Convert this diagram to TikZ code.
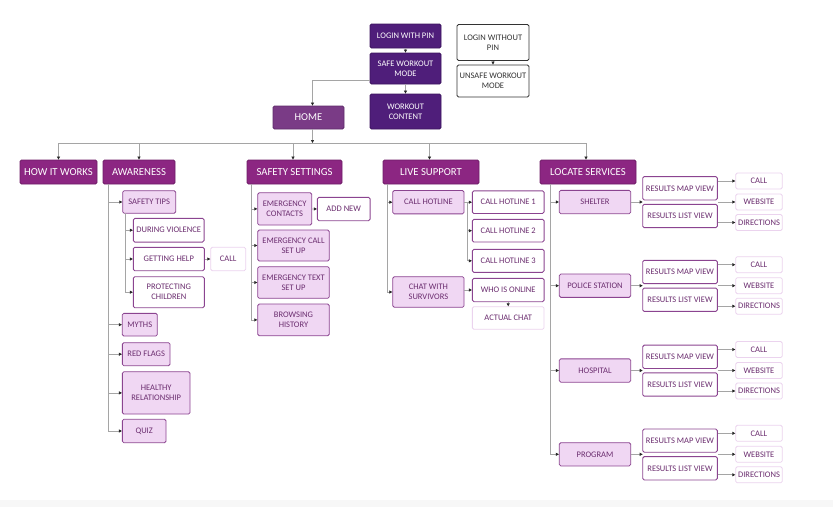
\documentclass[tikz,border=0pt]{standalone}
\usepackage{fontspec}
\setmainfont{Carlito}
\usetikzlibrary{arrows.meta}
\definecolor{dpurple}{HTML}{4F1E7A}
\definecolor{dpurpleb}{HTML}{3C145E}
\definecolor{homec}{HTML}{7A3B86}
\definecolor{homeb}{HTML}{5E2A6A}
\definecolor{topc}{HTML}{8C2682}
\definecolor{topb}{HTML}{6E1D66}
\definecolor{pinkf}{HTML}{F0D7F3}
\definecolor{pinkb}{HTML}{8B4490}
\definecolor{ptext}{HTML}{6B2D6F}
\definecolor{faintb}{HTML}{EBD3EE}
\definecolor{linegray}{HTML}{A5A5A5}
\definecolor{stripc}{HTML}{F7F7F7}
\newcommand{\smallfont}{\fontsize{8.5}{10}\selectfont}
\newcommand{\mybox}[7]{\node[#1,minimum width=#5pt,minimum height=#6pt] (#2) at (#3,#4) {#7};}
\newcommand{\servicegroup}[3]{%
  \mybox{pinkbox}{#1}{595}{#2}{71.4}{23.3}{#3}
  \mybox{whitebox}{#1map}{680}{#2-13.7}{74.6}{23.3}{RESULTS MAP VIEW}
  \mybox{whitebox}{#1list}{680}{#2+14}{74.6}{23.3}{RESULTS LIST VIEW}
  \mybox{faintbox}{#1call}{759}{#2-21}{46.6}{16}{CALL}
  \mybox{faintbox}{#1web}{759}{#2}{46.6}{16}{WEBSITE}
  \mybox{faintbox}{#1dir}{759}{#2+20.5}{46.6}{16}{DIRECTIONS}
  \coordinate (#1j) at (642.7,#2);
  \draw[conn] (lcx) |- (#1.west);
  \draw[conn] (#1.east) -- (#1j);
  \draw[conn] (#1call.west -| #1map.east) -- (#1call.west);
  \draw[conn] (#1web.west -| #1map.east) -- (#1web.west);
  \draw[conn] (#1dir.west -| #1list.east) -- (#1dir.west);
}
\begin{document}
\begin{tikzpicture}[x=1pt,y=-1pt,
  base/.style={rounded corners=1.5pt,inner sep=0pt,align=center,line width=0.8pt},
  darkbox/.style={base,fill=dpurple,draw=dpurpleb,text=white,font=\smallfont},
  plainbox/.style={base,fill=white,draw=black!80,text=black!80,font=\smallfont},
  homebox/.style={base,fill=homec,draw=homeb,text=white,font=\fontsize{10.5}{12}\selectfont},
  topbox/.style={base,fill=topc,draw=topb,text=white,font=\fontsize{10.7}{12}\selectfont},
  pinkbox/.style={base,fill=pinkf,draw=pinkb,text=ptext,font=\smallfont},
  whitebox/.style={base,fill=white,draw=pinkb,text=ptext,font=\smallfont,line width=0.9pt},
  faintbox/.style={base,fill=white,draw=faintb,text=ptext,font=\smallfont},
  line/.style={draw=linegray,line width=0.7pt},
  conn/.style={line,-{Triangle[length=3pt,width=3pt,color=black!85]}}
]
\useasboundingbox (0,0) rectangle (833,507);
\fill[stripc] (0,500) rectangle (833,507);

% top area
\mybox{darkbox}{lpin}{405.5}{36}{71}{24}{LOGIN WITH PIN}
\mybox{darkbox}{safe}{405.5}{68.5}{71}{31}{SAFE WORKOUT\\MODE}
\mybox{darkbox}{wcont}{405.5}{111.5}{71}{35}{WORKOUT\\CONTENT}
\mybox{plainbox}{lnopin}{493}{42.5}{72}{36}{LOGIN WITHOUT\\PIN}
\mybox{plainbox}{unsafe}{493}{81}{72}{32}{UNSAFE WORKOUT\\MODE}
\mybox{homebox}{home}{308.5}{117.5}{71}{23}{HOME}

\draw[conn] (lpin) -- (safe);
\draw[conn] (safe) -- (wcont);
\draw[conn] (lnopin) -- (unsafe);
\draw[conn] ([yshift=-11.5pt]safe.west) -| ([xshift=4pt]home.north);

% top level
\mybox{topbox}{how}{58.5}{172}{77}{24}{HOW IT WORKS}
\mybox{topbox}{aware}{139}{172}{72}{24}{AWARENESS}
\mybox{topbox}{safety}{294.5}{172}{95}{24}{SAFETY SETTINGS}
\mybox{topbox}{live}{431}{172}{96}{24}{LIVE SUPPORT}
\mybox{topbox}{locate}{588}{172}{96}{24}{LOCATE SERVICES}

\coordinate (bus) at (312.5,143);
\draw[conn] ([xshift=4pt]home.south) -- (bus);
\draw[line] (how.north |- bus) -- ([xshift=-2pt]locate.north |- bus);
\draw[conn] (how.north |- bus) -- (how.north);
\draw[conn] (aware.north |- bus) -- (aware.north);
\draw[conn] ([xshift=-1.5pt]safety.north |- bus) -- ([xshift=-1.5pt]safety.north);
\draw[conn] ([xshift=-1.5pt]live.north |- bus) -- ([xshift=-1.5pt]live.north);
\draw[conn] ([xshift=-2pt]locate.north |- bus) -- ([xshift=-2pt]locate.north);

% awareness
\mybox{pinkbox}{stips}{149.2}{202}{53}{22.6}{SAFETY TIPS}
\mybox{whitebox}{during}{168.7}{230.2}{70.7}{23.7}{DURING VIOLENCE}
\mybox{whitebox}{ghelp}{168.8}{259}{71}{23.4}{GETTING HELP}
\mybox{faintbox}{gcall}{228.2}{259}{35}{23.4}{CALL}
\mybox{whitebox}{protect}{168.8}{292.2}{71}{31}{PROTECTING\\CHILDREN}
\mybox{pinkbox}{myths}{139.8}{324.7}{35}{22.7}{MYTHS}
\mybox{pinkbox}{redflags}{146.2}{354.2}{47.7}{23}{RED FLAGS}
\mybox{pinkbox}{healthy}{156.2}{392.9}{67.7}{42.3}{HEALTHY\\RELATIONSHIP}
\mybox{pinkbox}{quiz}{144.2}{431}{43.7}{23.4}{QUIZ}

\coordinate (awx) at (108.7,184);
\foreach \n in {stips,myths,redflags,healthy,quiz} \draw[conn] (awx) |- (\n.west);
\coordinate (stx) at (125.3,213.3);
\foreach \n in {during,ghelp,protect} \draw[conn] (stx) |- (\n.west);
\draw[conn] (ghelp) -- (gcall);

% safety settings
\mybox{pinkbox}{econt}{284.7}{208.9}{54}{32.3}{EMERGENCY\\CONTACTS}
\mybox{whitebox}{addnew}{343.7}{209}{52.7}{23.4}{ADD NEW}
\mybox{pinkbox}{ecall}{293.5}{245.5}{71.6}{31}{EMERGENCY CALL\\SET UP}
\mybox{pinkbox}{etext}{293.5}{282.5}{71.6}{31.6}{EMERGENCY TEXT\\SET UP}
\mybox{pinkbox}{browse}{293.5}{319.9}{71.6}{31.7}{BROWSING\\HISTORY}
\coordinate (ssx) at (251,184);
\foreach \n in {econt,ecall,etext,browse} \draw[conn] (ssx) |- (\n.west);
\draw[conn] (econt) -- (addnew);

% live support
\mybox{pinkbox}{chot}{428.4}{202.2}{71.3}{23.3}{CALL HOTLINE}
\mybox{whitebox}{hone}{508.2}{202.2}{71.7}{22.6}{CALL HOTLINE 1}
\mybox{whitebox}{htwo}{508.2}{230.7}{71.7}{22.6}{CALL HOTLINE 2}
\mybox{whitebox}{hthree}{508.2}{260.8}{71.7}{23}{CALL HOTLINE 3}
\mybox{pinkbox}{chat}{428.4}{292}{71.3}{30.6}{CHAT WITH\\SURVIVORS}
\mybox{whitebox}{who}{508.2}{290}{71.7}{23.4}{WHO IS ONLINE}
\mybox{faintbox}{actual}{508.2}{318}{71.7}{22.6}{ACTUAL CHAT}
\coordinate (lsx) at (387.3,184);
\foreach \n in {chot,chat} \draw[conn] (lsx) |- (\n.west);
\draw[conn] (chot.east) -- (hone.west);
\coordinate (hbx) at (467,202.2);
\foreach \n in {htwo,hthree} \draw[conn] (hbx) |- (\n.west);
\draw[conn] (chat.east |- who.west) -- (who.west);
\draw[conn] (who) -- (actual);

% locate services
\coordinate (lcx) at (550.7,184);
\servicegroup{shelter}{202}{SHELTER}
\servicegroup{police}{285.7}{POLICE STATION}
\servicegroup{hospital}{370.5}{HOSPITAL}
\servicegroup{program}{454.3}{PROGRAM}
\end{tikzpicture}
\end{document}
